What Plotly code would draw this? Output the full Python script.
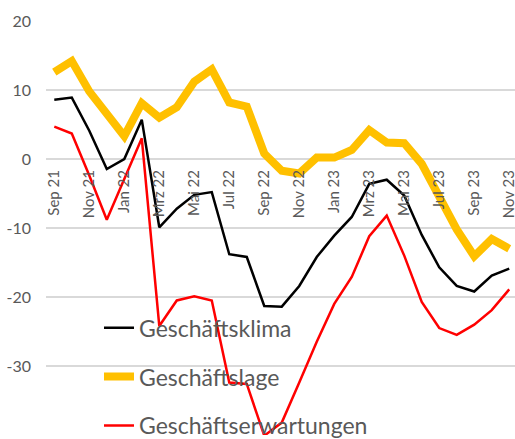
import plotly.graph_objects as go

months = ["Sep 21", "Okt 21", "Nov 21", "Dez 21", "Jan 22", "Feb 22", "Mrz 22", "Apr 22", "Mai 22",
          "Jun 22", "Jul 22", "Aug 22", "Sep 22", "Okt 22", "Nov 22", "Dez 22", "Jan 23", "Feb 23",
          "Mrz 23", "Apr 23", "Mai 23", "Jun 23", "Jul 23", "Aug 23", "Sep 23", "Okt 23", "Nov 23"]

geschaeftsklima = [8.6, 8.9, 4.1, -1.45, 0.0, 5.7, -9.9, -7.2, -5.2, -4.8, -13.8, -14.2, -21.3,
                   -21.4, -18.4, -14.2, -11.1, -8.4, -3.6, -3.0, -5.3, -11.0, -15.7, -18.4,
                   -19.2, -16.9, -15.9]
geschaeftslage = [12.6, 14.2, 9.8, 6.4, 3.3, 8.1, 6.0, 7.5, 11.2, 13.0, 8.2, 7.6, 0.8, -1.7,
                  -2.1, 0.2, 0.2, 1.3, 4.2, 2.4, 2.3, -0.7, -5.7, -10.2, -14.1, -11.6, -13.0]
geschaeftserwartungen = [4.7, 3.7, -2.4, -8.8, -2.9, 3.0, -24.2, -20.5, -19.9, -20.5, -32.4,
                         -32.6, -40.1, -38.2, -32.4, -26.5, -21.0, -17.1, -11.2, -8.2, -14.0,
                         -20.7, -24.5, -25.5, -24.0, -21.9, -18.9]

x_tick_labels = months[::2]
y_tick_values = [20, 10, 0, -10, -20, -30, -40]
y_tick_labels = ["20", "10", "0", "-10", "-20", "-30", "-40"]

grey = "#595959"
font_family = "Lato, 'Open Sans', sans-serif"

fig = go.Figure()
fig.add_trace(go.Scatter(x=months, y=geschaeftsklima, name="Geschäftsklima", mode="lines",
                         line=dict(color="#000000", width=2.5), legendgroup="a"))
fig.add_trace(go.Scatter(x=months, y=geschaeftslage, name="Geschäftslage", mode="lines",
                         line=dict(color="#FFC000", width=8), legendgroup="b"))
fig.add_trace(go.Scatter(x=months, y=geschaeftserwartungen, name="Geschäftserwartungen", mode="lines",
                         line=dict(color="#FF0000", width=2.5), legendgroup="c"))

fig.update_layout(
    width=515, height=439,
    margin=dict(l=46, r=0, t=21, b=4, autoexpand=False),
    paper_bgcolor="white", plot_bgcolor="white",
    font=dict(family=font_family, color=grey),
    showlegend=True,
    legend=dict(x=0.113, y=0.311, xanchor="left", yanchor="top",
                bgcolor="rgba(0,0,0,0)", font=dict(size=23, color=grey),
                tracegroupgap=16, itemwidth=30),
    xaxis=dict(type="category", range=[-0.474, 26.33], tickmode="array",
               tickvals=x_tick_labels, ticktext=x_tick_labels, tickangle=-90,
               anchor="free", position=40 / 60, showgrid=False, showline=False,
               zeroline=False, ticks="", ticklabelstandoff=7, automargin=False,
               tickfont=dict(size=15, color=grey)),
    yaxis=dict(range=[-40, 20], tickmode="array", tickvals=y_tick_values,
               ticktext=y_tick_labels, showgrid=True, gridcolor="#d9d9d9", gridwidth=1.5,
               zeroline=False, showline=False, ticks="", ticklabelstandoff=14,
               automargin=False, tickfont=dict(size=16, color=grey)),
)

fig.write_html("out.html", config={"displayModeBar": False},
               post_script="document.body.style.margin='0';")
